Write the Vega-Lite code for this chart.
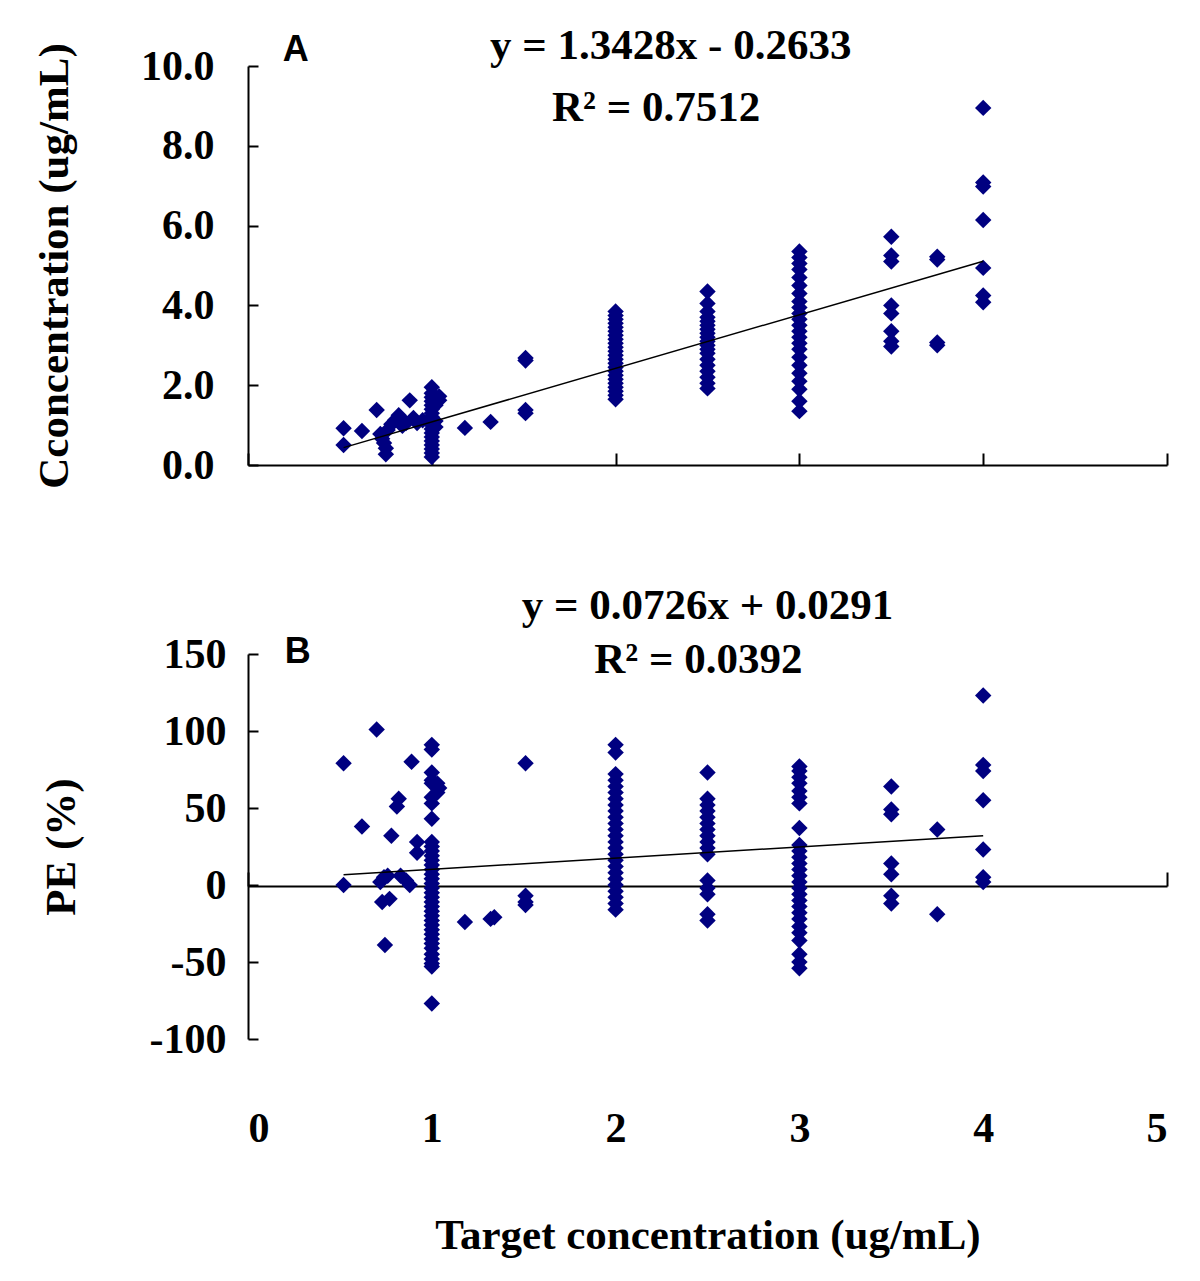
{
  "$schema": "https://vega.github.io/schema/vega-lite/v6.json",
  "background": "white",
  "padding": {"left": 33, "top": 25, "right": 10, "bottom": 10},
  "config": {
    "view": {"stroke": null},
    "axis": {
      "grid": false,
      "domainColor": "black",
      "tickColor": "black",
      "domainWidth": 2,
      "tickWidth": 2,
      "labelFont": "Liberation Serif",
      "labelFontWeight": "bold",
      "labelFontSize": 42,
      "labelColor": "black",
      "titleFont": "Liberation Serif",
      "titleFontWeight": "bold",
      "titleFontSize": 43,
      "titleColor": "black"
    }
  },
  "datasets": {
    "a": [
      {"x": 0.52, "y": 0.92}, {"x": 0.52, "y": 0.5}, {"x": 0.62, "y": 0.85}, {"x": 0.7, "y": 1.38},
      {"x": 0.72, "y": 0.78}, {"x": 0.73, "y": 0.66}, {"x": 0.74, "y": 0.55}, {"x": 0.75, "y": 0.42}, {"x": 0.75, "y": 0.27}, {"x": 0.76, "y": 0.88},
      {"x": 0.78, "y": 1.02}, {"x": 0.8, "y": 1.12}, {"x": 0.82, "y": 1.25}, {"x": 0.83, "y": 1.15}, {"x": 0.84, "y": 0.98}, {"x": 0.86, "y": 1.05}, {"x": 0.88, "y": 1.62}, {"x": 0.9, "y": 1.18}, {"x": 0.92, "y": 1.05}, {"x": 0.95, "y": 1.12},
      {"x": 1, "y": 0.2}, {"x": 1, "y": 0.3}, {"x": 1, "y": 0.4}, {"x": 1, "y": 0.5}, {"x": 1, "y": 0.6}, {"x": 1, "y": 0.7}, {"x": 1, "y": 0.8}, {"x": 1, "y": 0.9}, {"x": 1, "y": 1.0}, {"x": 1, "y": 1.1}, {"x": 1, "y": 1.2}, {"x": 1, "y": 1.3}, {"x": 1, "y": 1.4}, {"x": 1, "y": 1.5}, {"x": 1, "y": 1.6}, {"x": 1, "y": 1.7}, {"x": 1, "y": 1.8}, {"x": 1, "y": 1.95},
      {"x": 1.02, "y": 1.5}, {"x": 1.04, "y": 1.62}, {"x": 1.04, "y": 1.72}, {"x": 1.02, "y": 0.95}, {"x": 1.02, "y": 1.1},
      {"x": 1.18, "y": 0.93}, {"x": 1.32, "y": 1.08}, {"x": 1.51, "y": 1.3}, {"x": 1.51, "y": 1.38}, {"x": 1.51, "y": 2.62}, {"x": 1.51, "y": 2.68},
      {"x": 2, "y": 1.65}, {"x": 2, "y": 1.75}, {"x": 2, "y": 1.85}, {"x": 2, "y": 1.95}, {"x": 2, "y": 2.05}, {"x": 2, "y": 2.15}, {"x": 2, "y": 2.25}, {"x": 2, "y": 2.35}, {"x": 2, "y": 2.45}, {"x": 2, "y": 2.55}, {"x": 2, "y": 2.65}, {"x": 2, "y": 2.75}, {"x": 2, "y": 2.85}, {"x": 2, "y": 2.95}, {"x": 2, "y": 3.05}, {"x": 2, "y": 3.15}, {"x": 2, "y": 3.25}, {"x": 2, "y": 3.35}, {"x": 2, "y": 3.45}, {"x": 2, "y": 3.55}, {"x": 2, "y": 3.65}, {"x": 2, "y": 3.75}, {"x": 2, "y": 3.85},
      {"x": 2.5, "y": 1.92}, {"x": 2.5, "y": 2.05}, {"x": 2.5, "y": 2.2}, {"x": 2.5, "y": 2.35}, {"x": 2.5, "y": 2.5}, {"x": 2.5, "y": 2.65}, {"x": 2.5, "y": 2.8}, {"x": 2.5, "y": 2.9}, {"x": 2.5, "y": 3.0}, {"x": 2.5, "y": 3.1}, {"x": 2.5, "y": 3.2}, {"x": 2.5, "y": 3.3}, {"x": 2.5, "y": 3.4}, {"x": 2.5, "y": 3.5}, {"x": 2.5, "y": 3.6}, {"x": 2.5, "y": 3.7}, {"x": 2.5, "y": 3.85}, {"x": 2.5, "y": 4.05}, {"x": 2.5, "y": 4.35},
      {"x": 3, "y": 1.35}, {"x": 3, "y": 1.6}, {"x": 3, "y": 1.9}, {"x": 3, "y": 2.1}, {"x": 3, "y": 2.3}, {"x": 3, "y": 2.5}, {"x": 3, "y": 2.7}, {"x": 3, "y": 2.9}, {"x": 3, "y": 3.05}, {"x": 3, "y": 3.2}, {"x": 3, "y": 3.35}, {"x": 3, "y": 3.5}, {"x": 3, "y": 3.65}, {"x": 3, "y": 3.8}, {"x": 3, "y": 3.95}, {"x": 3, "y": 4.1}, {"x": 3, "y": 4.3}, {"x": 3, "y": 4.5}, {"x": 3, "y": 4.7}, {"x": 3, "y": 4.9}, {"x": 3, "y": 5.05}, {"x": 3, "y": 5.2}, {"x": 3, "y": 5.35},
      {"x": 3.5, "y": 5.72}, {"x": 3.5, "y": 5.25}, {"x": 3.5, "y": 5.1}, {"x": 3.5, "y": 4.0}, {"x": 3.5, "y": 3.8}, {"x": 3.5, "y": 3.35}, {"x": 3.5, "y": 3.1}, {"x": 3.5, "y": 2.97},
      {"x": 3.75, "y": 5.22}, {"x": 3.75, "y": 5.15}, {"x": 3.75, "y": 3.07}, {"x": 3.75, "y": 3.0},
      {"x": 4, "y": 8.95}, {"x": 4, "y": 7.08}, {"x": 4, "y": 6.98}, {"x": 4, "y": 6.14}, {"x": 4, "y": 4.94}, {"x": 4, "y": 4.25}, {"x": 4, "y": 4.08}
    ],
    "b": [
      {"x": 0.52, "y": 79}, {"x": 0.52, "y": 0}, {"x": 0.62, "y": 38}, {"x": 0.7, "y": 101},
      {"x": 0.72, "y": 2}, {"x": 0.74, "y": 5}, {"x": 0.76, "y": 6}, {"x": 0.73, "y": -11}, {"x": 0.77, "y": -9}, {"x": 0.745, "y": -39}, {"x": 0.78, "y": 32}, {"x": 0.82, "y": 56}, {"x": 0.81, "y": 51}, {"x": 0.83, "y": 6}, {"x": 0.86, "y": 3}, {"x": 0.88, "y": 0}, {"x": 0.89, "y": 80}, {"x": 0.92, "y": 28}, {"x": 0.92, "y": 21},
      {"x": 1, "y": 91}, {"x": 1, "y": 88}, {"x": 1, "y": 73}, {"x": 1, "y": 68}, {"x": 1, "y": 66}, {"x": 1, "y": 57}, {"x": 1, "y": 53}, {"x": 1, "y": 43}, {"x": 1, "y": 28}, {"x": 1, "y": 25}, {"x": 1, "y": 22}, {"x": 1, "y": 19}, {"x": 1, "y": 16}, {"x": 1, "y": 13}, {"x": 1, "y": 10}, {"x": 1, "y": 7}, {"x": 1, "y": 4}, {"x": 1, "y": 1}, {"x": 1, "y": -2}, {"x": 1, "y": -5}, {"x": 1, "y": -8}, {"x": 1, "y": -11}, {"x": 1, "y": -14}, {"x": 1, "y": -17}, {"x": 1, "y": -20}, {"x": 1, "y": -23}, {"x": 1, "y": -26}, {"x": 1, "y": -29}, {"x": 1, "y": -32}, {"x": 1, "y": -35}, {"x": 1, "y": -38}, {"x": 1, "y": -41}, {"x": 1, "y": -45}, {"x": 1, "y": -48}, {"x": 1, "y": -51}, {"x": 1, "y": -53}, {"x": 1, "y": -77},
      {"x": 1.04, "y": 63}, {"x": 1.03, "y": 60}, {"x": 1.03, "y": 66},
      {"x": 1.18, "y": -24}, {"x": 1.32, "y": -22}, {"x": 1.34, "y": -21}, {"x": 1.51, "y": 79}, {"x": 1.51, "y": -7}, {"x": 1.51, "y": -11}, {"x": 1.51, "y": -13},
      {"x": 2, "y": 91}, {"x": 2, "y": 86}, {"x": 2, "y": 72}, {"x": 2, "y": 68}, {"x": 2, "y": 64}, {"x": 2, "y": 60}, {"x": 2, "y": 56}, {"x": 2, "y": 52}, {"x": 2, "y": 48}, {"x": 2, "y": 44}, {"x": 2, "y": 40}, {"x": 2, "y": 36}, {"x": 2, "y": 32}, {"x": 2, "y": 28}, {"x": 2, "y": 24}, {"x": 2, "y": 20}, {"x": 2, "y": 16}, {"x": 2, "y": 12}, {"x": 2, "y": 8}, {"x": 2, "y": 4}, {"x": 2, "y": 0}, {"x": 2, "y": -4}, {"x": 2, "y": -8}, {"x": 2, "y": -12}, {"x": 2, "y": -16},
      {"x": 2.5, "y": 73}, {"x": 2.5, "y": 56}, {"x": 2.5, "y": 52}, {"x": 2.5, "y": 48}, {"x": 2.5, "y": 44}, {"x": 2.5, "y": 40}, {"x": 2.5, "y": 36}, {"x": 2.5, "y": 32}, {"x": 2.5, "y": 28}, {"x": 2.5, "y": 24}, {"x": 2.5, "y": 20}, {"x": 2.5, "y": 3}, {"x": 2.5, "y": -2}, {"x": 2.5, "y": -6}, {"x": 2.5, "y": -19}, {"x": 2.5, "y": -23},
      {"x": 3, "y": 77}, {"x": 3, "y": 74}, {"x": 3, "y": 70}, {"x": 3, "y": 66}, {"x": 3, "y": 61}, {"x": 3, "y": 57}, {"x": 3, "y": 53}, {"x": 3, "y": 37}, {"x": 3, "y": 26}, {"x": 3, "y": 22}, {"x": 3, "y": 18}, {"x": 3, "y": 14}, {"x": 3, "y": 10}, {"x": 3, "y": 6}, {"x": 3, "y": 2}, {"x": 3, "y": -2}, {"x": 3, "y": -6}, {"x": 3, "y": -10}, {"x": 3, "y": -14}, {"x": 3, "y": -18}, {"x": 3, "y": -22}, {"x": 3, "y": -27}, {"x": 3, "y": -31}, {"x": 3, "y": -36}, {"x": 3, "y": -45}, {"x": 3, "y": -50}, {"x": 3, "y": -54},
      {"x": 3.5, "y": 64}, {"x": 3.5, "y": 49}, {"x": 3.5, "y": 46}, {"x": 3.5, "y": 14}, {"x": 3.5, "y": 7}, {"x": 3.5, "y": -7}, {"x": 3.5, "y": -12},
      {"x": 3.75, "y": 36}, {"x": 3.75, "y": -19},
      {"x": 4, "y": 123}, {"x": 4, "y": 78}, {"x": 4, "y": 74}, {"x": 4, "y": 55}, {"x": 4, "y": 23}, {"x": 4, "y": 5}, {"x": 4, "y": 2}
    ],
    "fitA": [{"x": 0.52, "y": 0.435}, {"x": 4.0, "y": 5.108}],
    "fitB": [{"x": 0.52, "y": 6.7}, {"x": 4.0, "y": 31.95}],
    "noteA": [
      {"x": 2.3, "y": 10.5, "label": "y = 1.3428x - 0.2633"},
      {"x": 2.22, "y": 8.95, "label": "R² = 0.7512"}
    ],
    "noteB": [
      {"x": 2.5, "y": 181, "label": "y = 0.0726x + 0.0291"},
      {"x": 2.45, "y": 146, "label": "R² = 0.0392"}
    ],
    "tagA": [{"x": 0.26, "y": 10.4, "label": "A"}],
    "tagB": [{"x": 0.27, "y": 151, "label": "B"}]
  },
  "spacing": 189,
  "bounds": "flush",
  "vconcat": [
    {
      "width": 919,
      "height": 399,
      "layer": [
        {
          "data": {"name": "a"},
          "mark": {"type": "point", "shape": "diamond", "filled": true, "size": 270, "color": "#000080", "opacity": 1},
          "encoding": {
            "x": {"field": "x", "type": "quantitative", "scale": {"domain": [0, 5], "nice": false, "zero": false},
                  "axis": {"values": [0, 1, 2, 3, 4, 5], "labels": false, "title": null, "tickSize": -12}},
            "y": {"field": "y", "type": "quantitative", "scale": {"domain": [0, 10], "nice": false},
                  "axis": {"values": [0, 2, 4, 6, 8, 10], "format": ".1f", "tickSize": -10, "labelPadding": 44, "title": "Cconcentration (ug/mL)", "titlePadding": 64}}
          }
        },
        {
          "data": {"name": "fitA"},
          "mark": {"type": "line", "color": "black", "strokeWidth": 1.5},
          "encoding": {"x": {"field": "x", "type": "quantitative"}, "y": {"field": "y", "type": "quantitative"}}
        },
        {
          "data": {"name": "noteA"},
          "mark": {"type": "text", "font": "Liberation Serif", "fontWeight": "bold", "fontSize": 43, "color": "black", "baseline": "middle"},
          "encoding": {"x": {"field": "x", "type": "quantitative"}, "y": {"field": "y", "type": "quantitative"}, "text": {"field": "label"}}
        },
        {
          "data": {"name": "tagA"},
          "mark": {"type": "text", "font": "Liberation Sans", "fontWeight": "bold", "fontSize": 36, "color": "black", "baseline": "middle"},
          "encoding": {"x": {"field": "x", "type": "quantitative"}, "y": {"field": "y", "type": "quantitative"}, "text": {"field": "label"}}
        }
      ]
    },
    {
      "width": 919,
      "height": 385,
      "layer": [
        {
          "data": {"name": "b"},
          "mark": {"type": "point", "shape": "diamond", "filled": true, "size": 270, "color": "#000080", "opacity": 1},
          "encoding": {
            "x": {"field": "x", "type": "quantitative", "scale": {"domain": [0, 5], "nice": false, "zero": false},
                  "axis": {"values": [0, 1, 2, 3, 4, 5], "format": "d", "offset": -153, "tickSize": -14, "labelPadding": 236, "title": "Target concentration (ug/mL)", "titlePadding": 128}},
            "y": {"field": "y", "type": "quantitative", "scale": {"domain": [-100, 150], "nice": false, "zero": false},
                  "axis": {"values": [-100, -50, 0, 50, 100, 150], "labelExpr": "datum.value < 0 ? '-' + abs(datum.value) : '' + datum.value", "tickSize": -10, "labelPadding": 32, "title": "PE (%)", "titlePadding": 66}}
          }
        },
        {
          "data": {"name": "fitB"},
          "mark": {"type": "line", "color": "black", "strokeWidth": 1.5},
          "encoding": {"x": {"field": "x", "type": "quantitative"}, "y": {"field": "y", "type": "quantitative"}}
        },
        {
          "data": {"name": "noteB"},
          "mark": {"type": "text", "font": "Liberation Serif", "fontWeight": "bold", "fontSize": 43, "color": "black", "baseline": "middle"},
          "encoding": {"x": {"field": "x", "type": "quantitative"}, "y": {"field": "y", "type": "quantitative"}, "text": {"field": "label"}}
        },
        {
          "data": {"name": "tagB"},
          "mark": {"type": "text", "font": "Liberation Sans", "fontWeight": "bold", "fontSize": 36, "color": "black", "baseline": "middle"},
          "encoding": {"x": {"field": "x", "type": "quantitative"}, "y": {"field": "y", "type": "quantitative"}, "text": {"field": "label"}}
        }
      ]
    }
  ]
}
